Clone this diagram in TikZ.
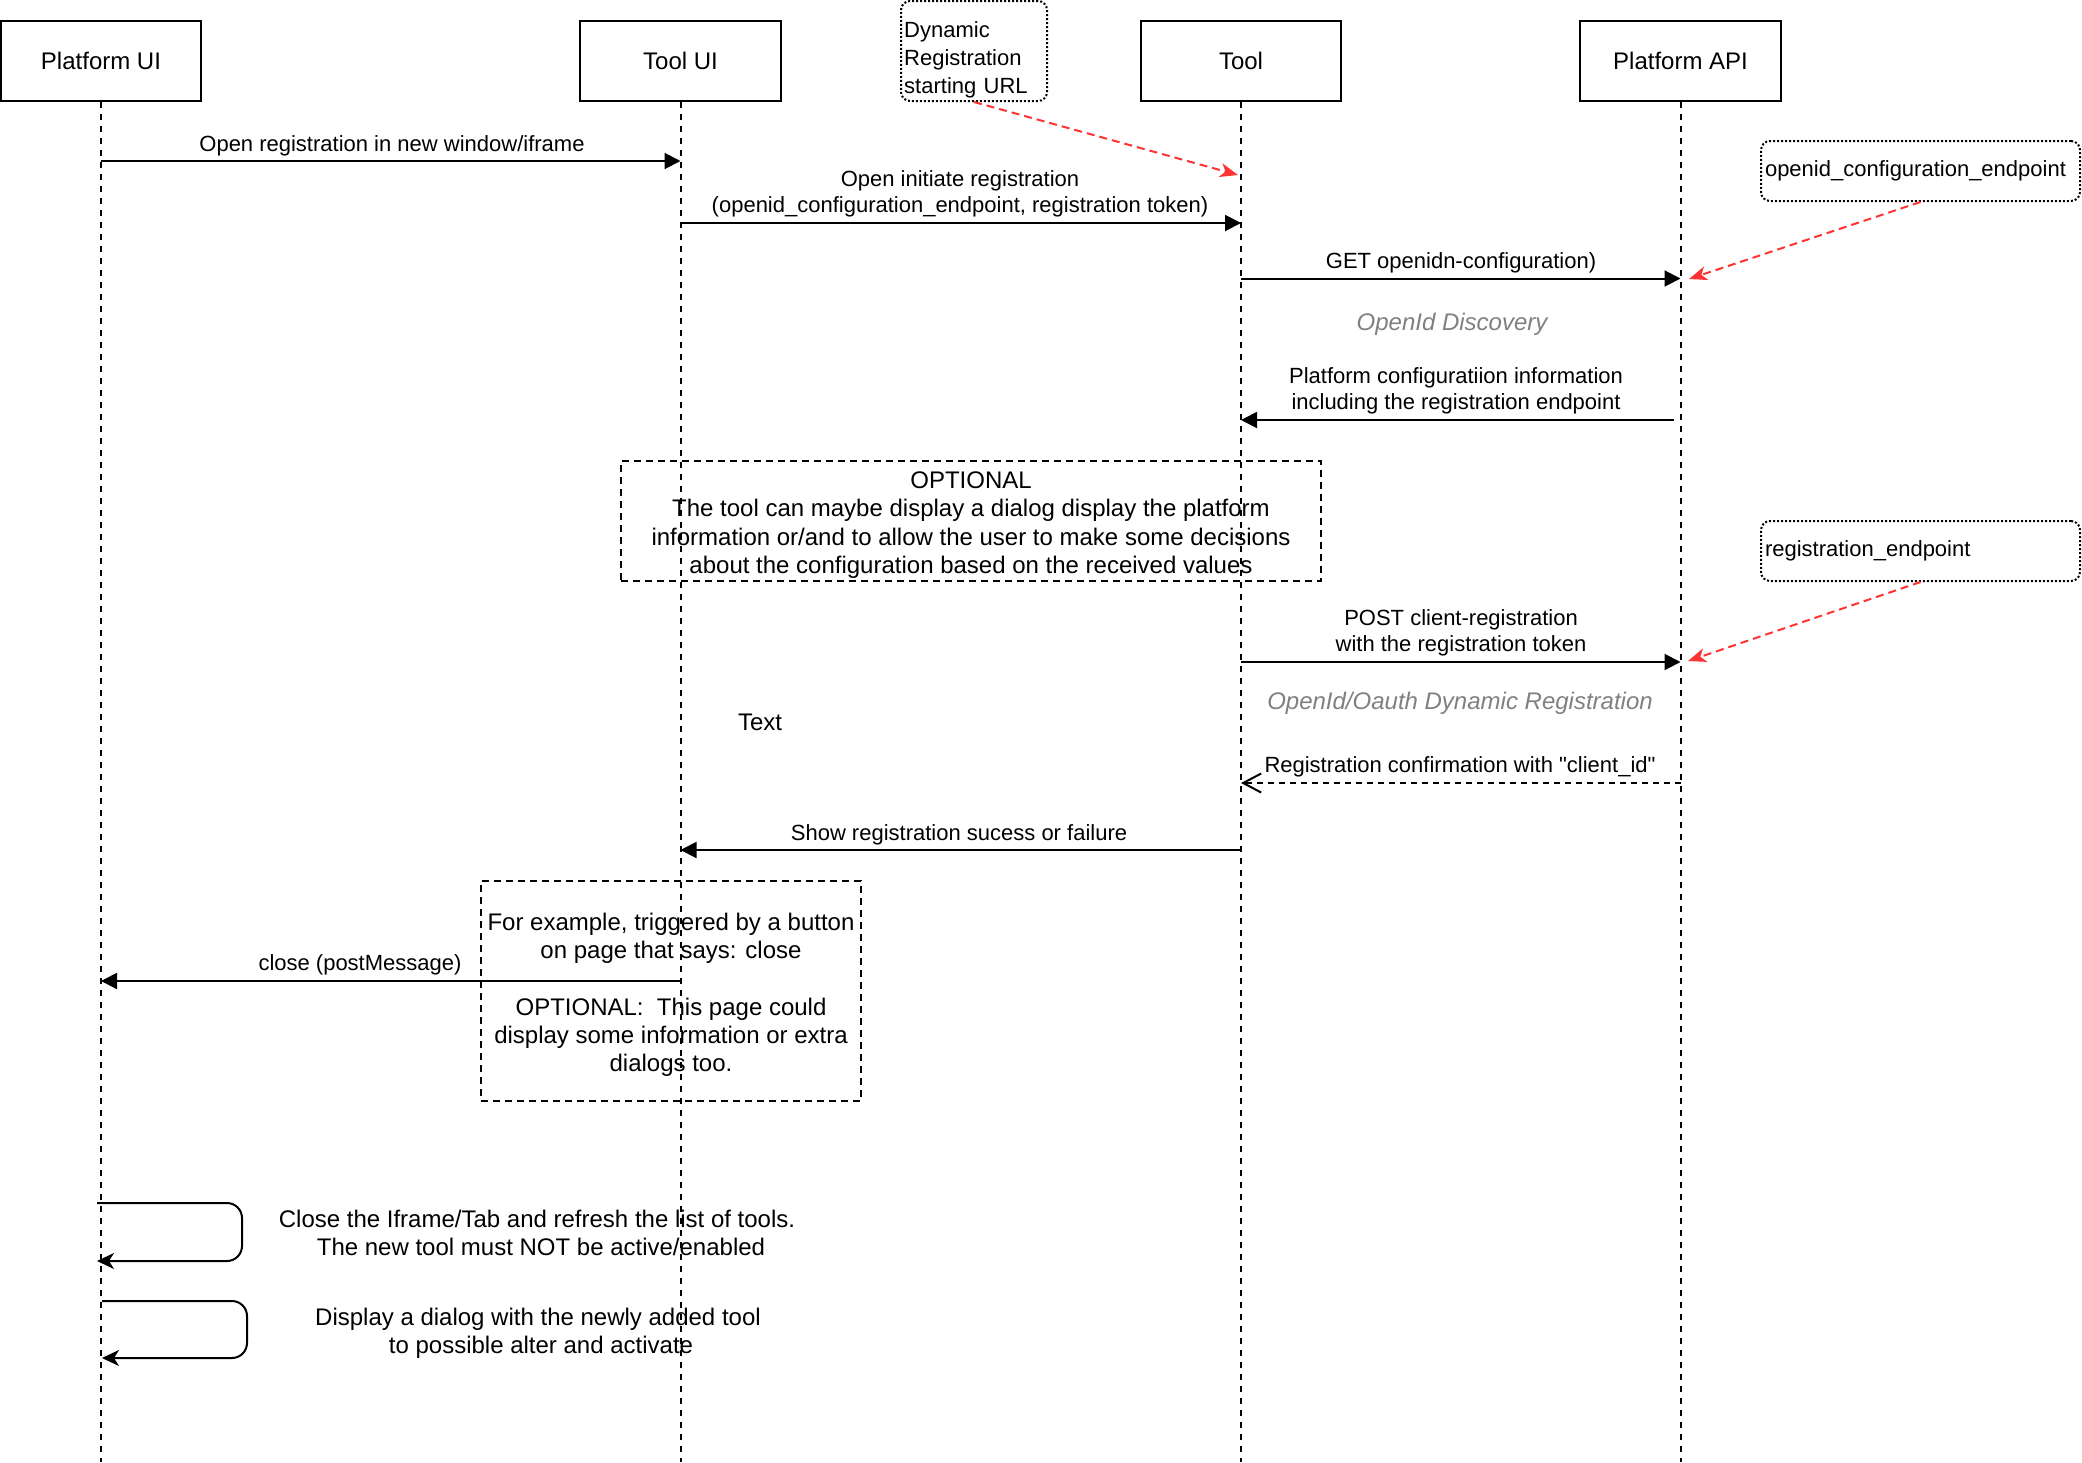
\documentclass[tikz,border=0pt]{standalone}
\usepackage{fontspec}
\setmainfont{Liberation Sans}[Ligatures=TeXOff]
\usetikzlibrary{arrows.meta}
\definecolor{noteRed}{HTML}{FF3333}
\definecolor{labelGray}{HTML}{808080}
\begin{document}
\begin{tikzpicture}[x=1pt,y=-1pt,
  actor/.style={draw, line width=2pt, minimum width=200pt, minimum height=80pt, inner sep=0pt, font=\fontsize{24}{28.5}\selectfont},
  lifeline/.style={line width=2pt, dash pattern=on 6pt off 6pt},
  msg/.style={line width=2pt, -{Triangle[length=16pt,width=16pt]}},
  reply/.style={line width=2pt, dash pattern=on 6pt off 5pt, -{Straight Barb[length=18pt,width=19pt]}},
  lbl/.style={font=\fontsize{22}{26.5}\selectfont, align=center, inner sep=0pt},
  big/.style={font=\fontsize{24}{28.3}\selectfont, align=center, inner sep=0pt},
  grayital/.style={font=\fontsize{24}{28.3}\selectfont\itshape, text=labelGray, inner sep=0pt},
  notebox/.style={draw, line width=2pt, dash pattern=on 2pt off 2pt, rounded corners=9pt, font=\fontsize{22}{28}\selectfont, align=left, inner xsep=4pt, inner ysep=0pt},
  optbox/.style={draw, line width=2pt, dash pattern=on 7pt off 5pt},
  hint/.style={draw=noteRed, line width=2pt, dash pattern=on 8pt off 5pt, -{Stealth[length=18pt,width=14pt,inset=5pt]}},
  selfmsg/.style={line width=2pt, rounded corners=15pt, -{Stealth[length=17pt,width=16pt,inset=5pt]}},
]
\useasboundingbox (0,0) rectangle (2082,1462);

% participants
\node[actor] (pui) at (101,61) {Platform UI};
\node[actor, minimum width=201pt] (tui) at (680.5,61) {Tool UI};
\node[actor] (tool) at (1241,61) {Tool};
\node[actor, minimum width=201pt] (papi) at (1680.5,61) {Platform API};

% lifelines
\coordinate (puiEnd) at (101,1462);
\coordinate (tuiEnd) at (680.5,1462);
\coordinate (toolEnd) at (1241,1462);
\coordinate (papiEnd) at (1680.5,1462);
\draw[lifeline] (pui.south) -- (puiEnd);
\draw[lifeline] (tui.south) -- (tuiEnd);
\draw[lifeline] (tool.south) -- (toolEnd);
\draw[lifeline] (papi.south) -- (papiEnd);

% notes
\node[notebox, minimum width=146pt, minimum height=100pt] (dr) at (974,51) {};
\node[font=\fontsize{22}{28}\selectfont, align=left, anchor=west, inner sep=0pt, text width=140pt] (drtext) at (904,59.5) {Dynamic\\Registration\\starting URL};
\node[notebox, text width=311pt, minimum height=60pt] (oce) at (1920.5,171) {openid\_configuration\_endpoint};
\node[notebox, text width=311pt, minimum height=60pt] (re) at (1920.5,551) {registration\_endpoint};

% optional boxes
\node[optbox, minimum width=700pt, minimum height=120pt, inner sep=0pt] (opt1) at (971,521) {};
\node[big] (opt1text) at (971,525) {OPTIONAL\\The tool can maybe display a dialog display the platform\\information or/and to allow the user to make some decisions\\about the configuration based on the received values};
\node[optbox, minimum width=380pt, minimum height=220pt, inner sep=0pt] (opt2) at (671,991) {};
\node[big] (opt2text) at (671,995) {For example, triggered by a button\\on page that says: close\\[28.3pt]OPTIONAL:\ \ This page could\\display some information or extra\\dialogs too.};

% message anchors
\coordinate (m1s) at (101,161);    \coordinate (m1e) at (680.5,161);
\coordinate (m2s) at (680.5,223);  \coordinate (m2e) at (1241,223);
\coordinate (m3s) at (1241,278.5); \coordinate (m3e) at (1680.5,278.5);
\coordinate (m4s) at (1674,420);   \coordinate (m4e) at (1241,420);
\coordinate (m5s) at (1241,662);   \coordinate (m5e) at (1680.5,662);
\coordinate (m6s) at (1680.5,783); \coordinate (m6e) at (1241,783);
\coordinate (m7s) at (1241,850);   \coordinate (m7e) at (680.5,850);
\coordinate (m8s) at (680.5,981);  \coordinate (m8e) at (101,981);

\draw[msg] (m1s) -- (m1e) node[lbl] at (392,145.5) {Open registration in new window/iframe};
\draw[msg] (m2s) -- (m2e) node[lbl] at (960,194) {Open initiate registration\\(openid\_configuration\_endpoint, registration token)};
\draw[msg] (m3s) -- (m3e) node[lbl] at (1461,262.5) {GET openidn-configuration)};
\node[grayital] (disc) at (1452,324) {OpenId Discovery};
\draw[msg] (m4s) -- (m4e) node[lbl] at (1456,391) {Platform configuratiion information\\including the registration endpoint};
\draw[msg] (m5s) -- (m5e) node[lbl] at (1461,633) {POST client-registration\\with the registration token};
\node[grayital] (dynreg) at (1460,703) {OpenId/Oauth Dynamic Registration};
\draw[reply] (m6s) -- (m6e) node[lbl] at (1460,767) {Registration confirmation with "client\_id"};
\draw[msg] (m7s) -- (m7e) node[lbl] at (959,834.5) {Show registration sucess or failure};
\draw[msg] (m8s) -- (m8e) node[lbl] at (360,964.5) {close (postMessage)};

\node[big] (txt) at (760,722) {Text};

% hint arrows
\coordinate (h1e) at (1238,175);
\coordinate (h2e) at (1689,279);
\coordinate (h3e) at (1688,661);
\draw[hint] (dr.south) -- (h1e);
\draw[hint] (oce.south) -- (h2e);
\draw[hint] (re.south) -- (h3e);

% self messages
\coordinate (s1s) at (97,1203);  \coordinate (s1e) at (97,1261);
\coordinate (s2s) at (102,1301); \coordinate (s2e) at (102,1358);
\draw[selfmsg] (s1s) -- ++(145,0) |- (s1e);
\draw[selfmsg] (s2s) -- ++(145,0) |- (s2e);
\node[big] (s1text) at (537,1233) {Close the Iframe/Tab and refresh the list of tools.\\\hspace*{8pt}The new tool must NOT be active/enabled};
\node[big] (s2text) at (538,1333) {Display a dialog with the newly added tool\\\hspace*{6pt}to possible alter and activate};
\end{tikzpicture}
\end{document}
